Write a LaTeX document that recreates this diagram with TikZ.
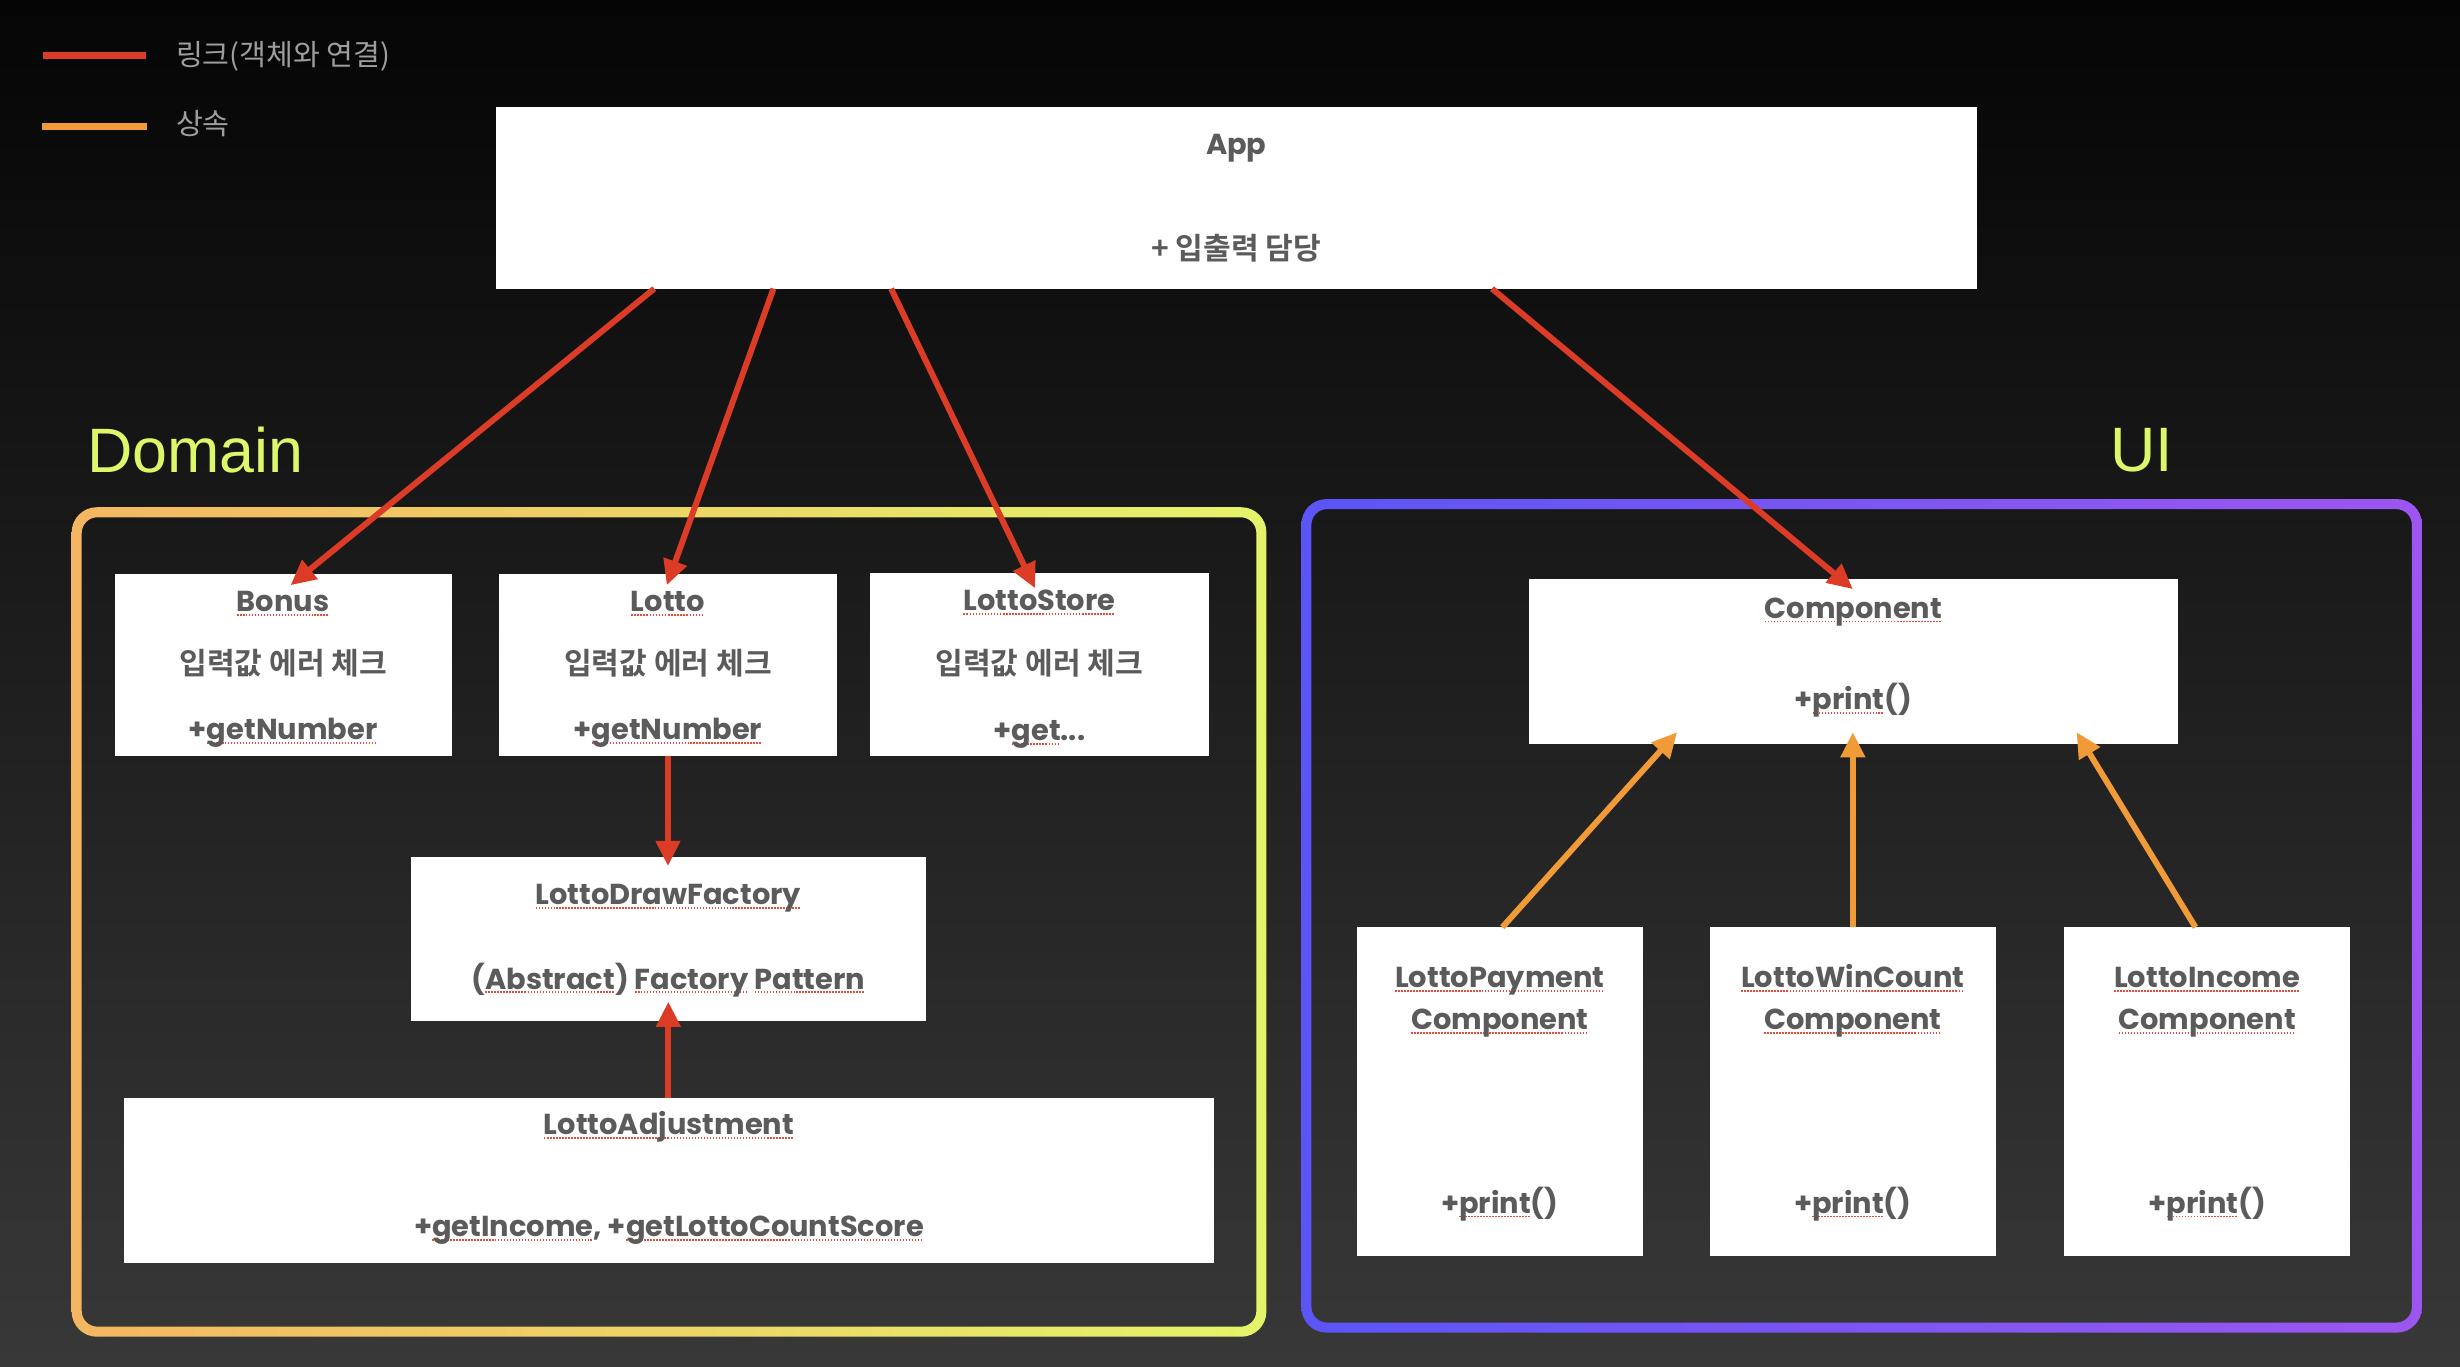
\documentclass[tikz,border=0pt]{standalone}
\usepackage{fontspec}
\usetikzlibrary{arrows.meta,calc}
\newfontfamily\kr{Noto Sans CJK KR}[BoldFont={Noto Sans CJK KR Bold}]
\newfontfamily\lat{Poppins Bold}
\newfontfamily\ttl{Liberation Sans}
\definecolor{linkred}{HTML}{DC3B26}
\definecolor{inhorange}{HTML}{F09A38}
\definecolor{txtgray}{HTML}{5B5B5B}
\definecolor{leggray}{HTML}{9E9E9E}
\definecolor{titlegreen}{HTML}{DDF76A}
\definecolor{ulred}{HTML}{E84B3C}
\definecolor{domA}{HTML}{F4B662}
\definecolor{domB}{HTML}{E4F46A}
\definecolor{uiA}{HTML}{5B55F6}
\definecolor{uiB}{HTML}{9D56F0}
\definecolor{bgtop}{HTML}{050505}
\definecolor{bgbot}{HTML}{383838}
\newsavebox\ulbox
\newcommand\redul[1]{\leavevmode\sbox\ulbox{#1}\rlap{\raisebox{-2.7pt}{\textcolor{ulred}{\hbox to \wd\ulbox{\xleaders\hbox{\rule{1pt}{1.2pt}\kern0.9pt}\hfill}}}}\usebox\ulbox}
\begin{document}
\begin{tikzpicture}[x=1pt,y=-1pt,
  cbox/.style={fill=white,draw=none,inner sep=0pt,outer sep=0pt},
  lt/.style={font=\lat\fontsize{18.4}{22}\selectfont,text=txtgray,inner sep=0pt},
  kt/.style={font=\kr\bfseries\fontsize{19.2}{23}\selectfont,text=txtgray,inner sep=0pt},
  legtext/.style={font=\kr\fontsize{18.6}{22}\selectfont,text=leggray,inner sep=0pt},
  grptitle/.style={font=\ttl\fontsize{40}{45}\selectfont,text=titlegreen,inner sep=0pt},
  link/.style={draw=linkred,line width=3.8pt,-{Triangle[length=16pt,width=15pt]}},
  inh/.style={draw=inhorange,line width=3.8pt,-{Triangle[length=16pt,width=15pt]}}]
% background
\shade[top color=bgtop,bottom color=bgbot] (0,0) rectangle (1568,871);
\useasboundingbox (0,0) rectangle (1568,871);
% groups
\shade[left color=domA,right color=domB,even odd rule]
  (45.7,323.3) [rounded corners=16pt] rectangle (807.2,852)
  (52.1,329.7) [rounded corners=10pt] rectangle (800.8,845.6);
\shade[left color=uiA,right color=uiB,even odd rule]
  (829.5,318.1) [rounded corners=16pt] rectangle (1543.7,849.4)
  (835.9,324.5) [rounded corners=10pt] rectangle (1537.3,843);
\node[grptitle,anchor=base west] (domT) at (55.5,301.3) {Domain};
\node[grptitle,anchor=base west] (uiT) at (1345,300.5) {UI};
% legend
\draw[linkred,line width=4.6pt] (27.6,35.3) -- (93,35.3);
\draw[inhorange,line width=4.6pt] (26.8,80.5) -- (94,80.5);
\node[legtext,anchor=base west] (lg1) at (112,41.5) {링크(객체와 연결)};
\node[legtext,anchor=base west] (lg2) at (112,86) {상속};
% boxes
\node[cbox,minimum width=944pt,minimum height=116pt] (app) at (788,126) {};
\node[cbox,minimum width=215pt,minimum height=116pt] (bonus) at (180.5,424) {};
\node[cbox,minimum width=215.5pt,minimum height=116pt] (lotto) at (425.75,424) {};
\node[cbox,minimum width=216pt,minimum height=116.5pt] (store) at (662.5,423.75) {};
\node[cbox,minimum width=328pt,minimum height=104.5pt] (ldf) at (426,598.25) {};
\node[cbox,minimum width=694.8pt,minimum height=105.4pt] (adj) at (426.4,752.3) {};
\node[cbox,minimum width=413.4pt,minimum height=105pt] (comp) at (1181.3,421.5) {};
\node[cbox,minimum width=182pt,minimum height=209.5pt] (pay) at (956,695.75) {};
\node[cbox,minimum width=182pt,minimum height=209.5pt] (win) at (1181,695.75) {};
\node[cbox,minimum width=182.3pt,minimum height=209.5pt] (inc) at (1406.85,695.75) {};
% texts
\node[lt,anchor=base] (appT) at (788,98.2) {App};
\node[kt,anchor=base] (appK) at (788,165.5) {+ 입출력 담당};
\node[lt,anchor=base] (bonusT) at (180.5,390) {\redul{Bonus}};
\node[kt,anchor=base] (bonusK) at (180.5,430) {입력값 에러 체크};
\node[lt,anchor=base] (bonusM) at (180.5,471.5) {+\redul{getNumber}};
\node[lt,anchor=base] (lottoT) at (425.75,390) {\redul{Lotto}};
\node[kt,anchor=base] (lottoK) at (425.75,430) {입력값 에러 체크};
\node[lt,anchor=base] (lottoM) at (425.75,471.5) {+\redul{getNumber}};
\node[lt,anchor=base] (storeT) at (662.5,389) {\redul{LottoStore}};
\node[kt,anchor=base] (storeK) at (662.5,430) {입력값 에러 체크};
\node[lt,anchor=base] (storeM) at (662.5,472) {+\redul{get}...};
\node[lt,anchor=base] (ldfT) at (426,576.8) {\redul{LottoDrawFactory}};
\node[lt,anchor=base] (ldfM) at (426,630.4) {(\redul{Abstract}) \redul{Factory} \redul{Pattern}};
\node[lt,anchor=base] (adjT) at (426.4,723.4) {\redul{LottoAdjustment}};
\node[lt,anchor=base] (adjM) at (426.4,788.2) {+\redul{getIncome}, +\redul{getLottoCountScore}};
\node[lt,anchor=base] (compT) at (1181.3,394) {\redul{Component}};
\node[lt,anchor=base] (compM) at (1181.3,452.5) {+\redul{print}()};
\node[lt,anchor=base] (payT) at (956,629.3) {\redul{LottoPayment}};
\node[lt,anchor=base] (payT2) at (956,656.5) {\redul{Component}};
\node[lt,anchor=base] (payM) at (956,773.3) {+\redul{print}()};
\node[lt,anchor=base] (winT) at (1181,629.3) {\redul{LottoWinCount}};
\node[lt,anchor=base] (winT2) at (1181,656.5) {\redul{Component}};
\node[lt,anchor=base] (winM) at (1181,773.3) {+\redul{print}()};
\node[lt,anchor=base] (incT) at (1406.85,629.3) {\redul{LottoIncome}};
\node[lt,anchor=base] (incT2) at (1406.85,656.5) {\redul{Component}};
\node[lt,anchor=base] (incM) at (1406.85,773.3) {+\redul{print}()};
% links
\draw[link] ($(app.south west)+(101,0)$) -- ($(bonus.north)+(4.7,7)$);
\draw[link] ($(app.south west)+(177,0)$) -- ($(lotto.north)+(-0.75,7)$);
\draw[link] ($(app.south west)+(252,0)$) -- ($(store.north)+(-2.8,9.4)$);
\draw[link] ($(app.south west)+(635,0)$) -- ($(comp.north)+(-0.3,6.5)$);
\draw[link] (lotto.south) -- ($(lotto.south |- ldf.north)+(0,6)$);
\draw[link] (ldf.south |- adj.north) -- ($(ldf.south)+(0,-12)$);
% inheritance
\draw[inh] ($(pay.north)+(1.6,0)$) -- ($(comp.south)+(-112.3,-7.3)$);
\draw[inh] (win.north) -- ($(comp.south)+(-0.3,-7.3)$);
\draw[inh] ($(inc.north)+(-7.5,0)$) -- ($(comp.south)+(142.3,-7.3)$);
\end{tikzpicture}
\end{document}
